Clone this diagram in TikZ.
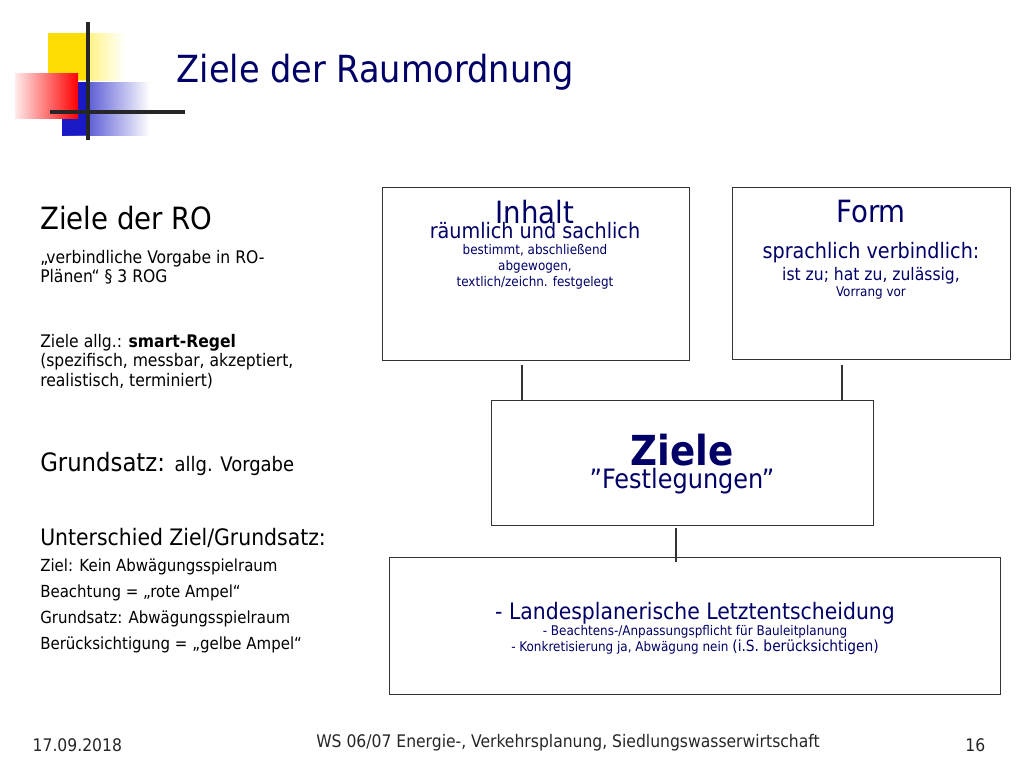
\documentclass[tikz,border=0pt]{standalone}
\usepackage{fontspec}
\setmainfont{DejaVu Sans Condensed}
\begin{document}
\begin{tikzpicture}[x=0.75pt,y=-0.75pt,
 bx/.style={draw=black!80,line width=0.9pt,fill=white},
 cn/.style={draw=black!80,line width=0.8pt},
 tx/.style={inner sep=0pt,anchor=west,align=left}]
\definecolor{nv}{HTML}{000066}
\useasboundingbox (0,0) rectangle (1024,768);
% logo
\shade[left color=yellow!80!orange, right color=white] (48,33) rectangle (125,80);
\fill[yellow!80!orange] (48,33) rectangle (88,80);
\shade[left color=blue!75!black!90, right color=white] (62,82) rectangle (150,135);
\fill[blue!75!black!90] (62,82) rectangle (90,135);
\shade[left color=red!8, right color=red] (15,73) rectangle (78,118);
\draw[line width=2.5pt,black!85] (88,22) -- (88,140);
\draw[line width=2.5pt,black!85] (50,112) -- (185,112);
\node[anchor=west,text=nv,font=\fontsize{28}{30}\selectfont] (title) at (172,72) {Ziele der Raumordnung};
% left text
\node[tx,font=\fontsize{23}{25}\selectfont] (t1) at (40,218) {Ziele der RO};
\node[tx,font=\fontsize{13}{14.5}\selectfont,anchor=north west] (t2) at (40,250) {„verbindliche Vorgabe in RO-\\Plänen“ § 3 ROG};
\node[tx,font=\fontsize{13}{14.5}\selectfont,anchor=north west] (t3) at (40,334) {Ziele allg.: \textbf{smart-Regel}\\(spezifisch, messbar, akzeptiert,\\realistisch, terminiert)};
\node[tx,font=\fontsize{19}{21}\selectfont] (t4) at (40,464) {Grundsatz: {\fontsize{15}{17}\selectfont allg. Vorgabe}};
\node[tx,font=\fontsize{17}{19}\selectfont] (t5) at (40,538) {Unterschied Ziel/Grundsatz:};
\node[tx,font=\fontsize{12.5}{19.5}\selectfont,anchor=north west] (t6) at (40,559) {Ziel: Kein Abwägungsspielraum\\Beachtung = „rote Ampel“\\Grundsatz: Abwägungsspielraum\\Berücksichtigung = „gelbe Ampel“};
% boxes
\node[bx,anchor=north west,minimum width=230.25pt,minimum height=129.75pt] (inh) at (382,187) {};
\node[text=nv,align=center,anchor=north] (inht) at (535,195) {{\fontsize{23}{26}\selectfont Inhalt}\\[-2pt]\fontsize{16}{23}\selectfont räumlich und sachlich\\bestimmt, abschließend\\abgewogen,\\textlich/zeichn. festgelegt};
\node[bx,anchor=north west,minimum width=208.5pt,minimum height=129pt] (frm) at (732,187) {};
\node[text=nv,align=center,anchor=north] (frmt) at (871,195) {{\fontsize{23}{26}\selectfont Form}\\[14pt]{\fontsize{16}{20}\selectfont sprachlich verbindlich:}\\[2pt]\fontsize{13}{20}\selectfont ist zu; hat zu, zulässig,\\Vorrang vor};
\node[bx,anchor=north west,minimum width=286.5pt,minimum height=93.75pt] (zie) at (491,400) {};
\node[text=nv,align=center] (ziet) at (682,464) {{\fontsize{31}{34}\selectfont\bfseries Ziele}\\[0pt]\fontsize{20}{22}\selectfont "Festlegungen"};
\node[bx,anchor=north west,minimum width=458.25pt,minimum height=102.75pt] (bot) at (389,557) {};
\node[text=nv,align=center] (bott) at (695,628) {\fontsize{17}{23.5}\selectfont - Landesplanerische Letztentscheidung\\- Beachtens-/Anpassungspflicht für Bauleitplanung\\- Konkretisierung ja, Abwägung nein {\fontsize{11.5}{12}\selectfont(i.S. berücksichtigen)}};
\coordinate (a1) at (522,365); \coordinate (a2) at (522,400);
\coordinate (b1) at (842,365); \coordinate (b2) at (842,400);
\coordinate (c1) at (676,528); \coordinate (c2) at (676,562);
\draw[cn] (a1) -- (a2); \draw[cn] (b1) -- (b2); \draw[cn] (c1) -- (c2);
% footer
\node[font=\fontsize{13}{14}\selectfont,anchor=west,text=black!85] (f1) at (28,745) {17.09.2018};
\node[font=\fontsize{13}{14}\selectfont,text=black!85] (f2) at (568,743) {WS 06/07 Energie-, Verkehrsplanung, Siedlungswasserwirtschaft};
\node[font=\fontsize{13}{14}\selectfont,anchor=east,text=black!85] (f3) at (990,745) {16};
\end{tikzpicture}
\end{document}
